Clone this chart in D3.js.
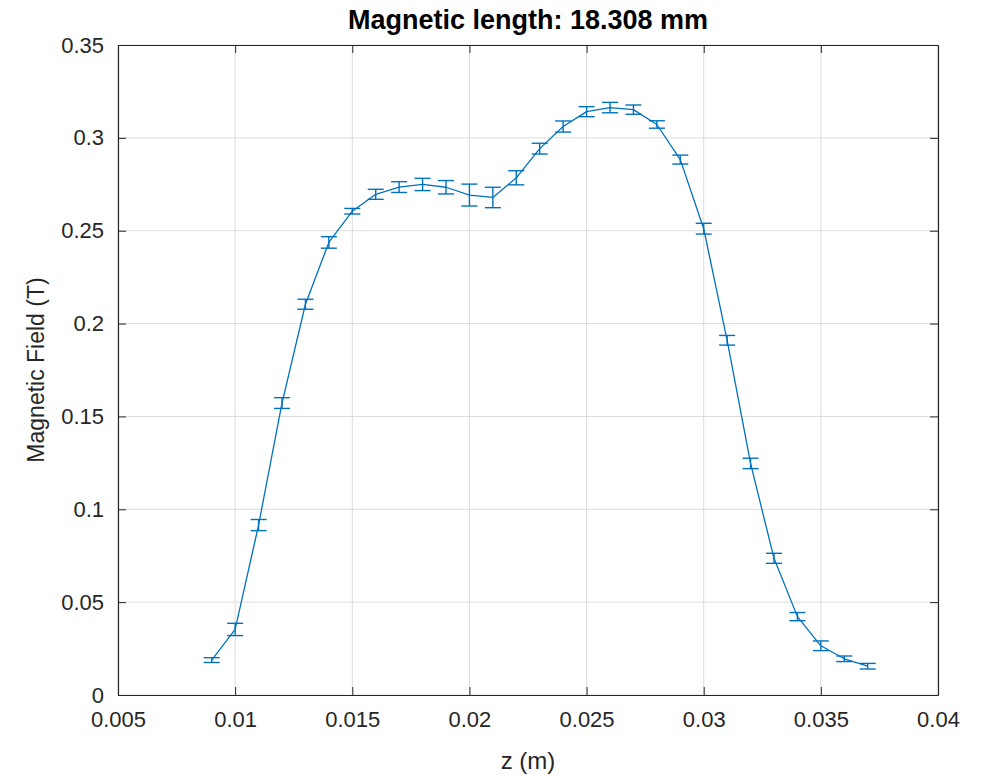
<!DOCTYPE html>
<html>
<head>
<meta charset="utf-8">
<script src="https://cdn.jsdelivr.net/npm/d3@7"></script>
<style>
  body { margin: 0; background: #fff; }
  svg { display: block; font-family: "Liberation Sans", Arial, sans-serif; }
</style>
</head>
<body>
<svg id="chart" width="986" height="776"></svg>
<script>
// measured field along z, with the spread of repeated readings
const zPositions = [0.009, 0.010, 0.011, 0.012, 0.013, 0.014, 0.015, 0.016, 0.017, 0.018,
  0.019, 0.020, 0.021, 0.022, 0.023, 0.024, 0.025, 0.026, 0.027, 0.028,
  0.029, 0.030, 0.031, 0.032, 0.033, 0.034, 0.035, 0.036, 0.037];
const fieldValues = [0.0188, 0.0353, 0.0915, 0.1572, 0.2104, 0.2437, 0.2605, 0.2696, 0.2735, 0.2749,
  0.2734, 0.2692, 0.2679, 0.2785, 0.2942, 0.3061, 0.3141, 0.3163, 0.3152, 0.3072,
  0.2883, 0.2511, 0.1910, 0.1247, 0.0736, 0.0422, 0.0265, 0.0195, 0.0155];
const fieldErrors = [0.0013, 0.0033, 0.0030, 0.0029, 0.0027, 0.0031, 0.0015, 0.0027, 0.0029, 0.0033,
  0.0036, 0.0059, 0.0055, 0.0038, 0.0029, 0.0030, 0.0027, 0.0028, 0.0025, 0.0020,
  0.0024, 0.0029, 0.0026, 0.0028, 0.0027, 0.0022, 0.0026, 0.0015, 0.0015];
const xTicks = [0.005, 0.01, 0.015, 0.02, 0.025, 0.03, 0.035, 0.04];
const yTicks = [0, 0.05, 0.1, 0.15, 0.2, 0.25, 0.3, 0.35];

const margin = { top: 45, right: 48, bottom: 81, left: 118 };
const svg = d3.select('#chart');
const width = +svg.attr('width') - margin.left - margin.right;
const height = +svg.attr('height') - margin.top - margin.bottom;
const lineColor = '#0072bd';
const axisColor = '#262626';

const x = d3.scaleLinear().domain([0.005, 0.04]).range([0, width]);
const y = d3.scaleLinear().domain([0, 0.35]).range([height, 0]);

const g = svg.append('g').attr('transform', `translate(${margin.left},${margin.top})`);

// grid
g.append('g')
  .selectAll('line')
  .data(xTicks)
  .join('line')
  .attr('x1', d => x(d)).attr('x2', d => x(d))
  .attr('y1', 0).attr('y2', height)
  .attr('stroke', '#dcdcdc').attr('stroke-width', 1);
g.append('g')
  .selectAll('line')
  .data(yTicks)
  .join('line')
  .attr('y1', d => y(d)).attr('y2', d => y(d))
  .attr('x1', 0).attr('x2', width)
  .attr('stroke', '#dcdcdc').attr('stroke-width', 1);

// axes, ticks pointing inward
const fmt = d => String(+d.toFixed(3));
const tickLen = 8;

const xAxis = g.append('g')
  .attr('transform', `translate(0,${height})`)
  .call(d3.axisBottom(x).tickValues(xTicks).tickFormat(fmt).tickSizeInner(-tickLen).tickSizeOuter(0).tickPadding(16));
const yAxis = g.append('g')
  .call(d3.axisLeft(y).tickValues(yTicks).tickFormat(fmt).tickSizeInner(-tickLen).tickSizeOuter(0).tickPadding(14));
const xTop = g.append('g')
  .call(d3.axisTop(x).tickValues(xTicks).tickFormat('').tickSizeInner(-tickLen).tickSizeOuter(0));
const yRight = g.append('g')
  .attr('transform', `translate(${width},0)`)
  .call(d3.axisRight(y).tickValues(yTicks).tickFormat('').tickSizeInner(-tickLen).tickSizeOuter(0));

[xAxis, yAxis, xTop, yRight].forEach(a => {
  a.select('.domain').attr('stroke', axisColor).attr('stroke-width', 1.2);
  a.selectAll('.tick line').attr('stroke', axisColor);
  a.selectAll('.tick text').attr('fill', axisColor).style('font-size', '22px');
});

// data line
const pts = zPositions.map((z, i) => ({ z, b: fieldValues[i], e: fieldErrors[i] }));

g.append('path')
  .datum(pts)
  .attr('fill', 'none')
  .attr('stroke', lineColor)
  .attr('stroke-width', 1.3)
  .attr('stroke-linejoin', 'round')
  .attr('d', d3.line().x(d => x(d.z)).y(d => y(d.b)));

// error bars
const capHalf = 8;
const bars = g.append('g').attr('stroke', lineColor).attr('stroke-width', 1.4);
bars.selectAll('line.v')
  .data(pts)
  .join('line')
  .attr('class', 'v')
  .attr('x1', d => x(d.z)).attr('x2', d => x(d.z))
  .attr('y1', d => y(d.b - d.e)).attr('y2', d => y(d.b + d.e));
bars.selectAll('line.top')
  .data(pts)
  .join('line')
  .attr('class', 'top')
  .attr('x1', d => x(d.z) - capHalf).attr('x2', d => x(d.z) + capHalf)
  .attr('y1', d => y(d.b + d.e)).attr('y2', d => y(d.b + d.e));
bars.selectAll('line.bot')
  .data(pts)
  .join('line')
  .attr('class', 'bot')
  .attr('x1', d => x(d.z) - capHalf).attr('x2', d => x(d.z) + capHalf)
  .attr('y1', d => y(d.b - d.e)).attr('y2', d => y(d.b - d.e));

// labels
svg.append('text')
  .attr('x', margin.left + width / 2).attr('y', 29)
  .attr('text-anchor', 'middle')
  .style('font-size', '27px').style('font-weight', 'bold')
  .attr('fill', '#000')
  .text('Magnetic length: 18.308 mm');

svg.append('text')
  .attr('x', margin.left + width / 2).attr('y', 769)
  .attr('text-anchor', 'middle')
  .style('font-size', '24px')
  .attr('fill', axisColor)
  .text('z (m)');

svg.append('text')
  .attr('transform', `translate(44,${margin.top + height / 2}) rotate(-90)`)
  .attr('text-anchor', 'middle')
  .style('font-size', '23px')
  .attr('fill', axisColor)
  .text('Magnetic Field (T)');
</script>
</body>
</html>
